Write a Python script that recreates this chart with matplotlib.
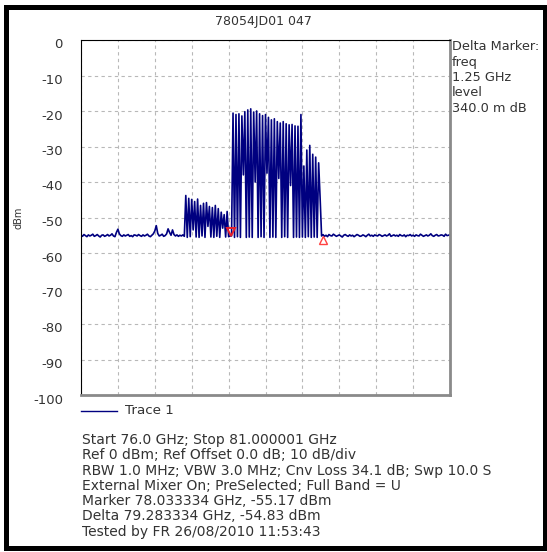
import numpy as np
import matplotlib
matplotlib.use("Agg")
import matplotlib.pyplot as plt
from matplotlib.patches import Rectangle
from matplotlib.transforms import ScaledTranslation

plt.rcParams['font.family'] = ['DejaVu Sans']

title = "78054JD01 047"
start_ghz = 76.0
stop_ghz = 81.000001
y_ticks = [0, -10, -20, -30, -40, -50, -60, -70, -80, -90, -100]

levels_dbm = [
    # 76.00 - 77.40 noise floor
    -55.0, -55.3, -54.8, -55.1, -55.4, -54.9, -55.2, -55.0, -54.7, -55.3,
    -55.1, -54.8, -55.2, -55.5, -55.0, -54.9, -55.3, -55.1, -54.8, -55.2,
    -55.0, -54.6, -55.2, -55.4, -54.2, -53.3, -54.6, -55.1, -55.3, -54.9,
    -55.2, -55.0, -54.8, -55.3, -55.1, -55.4, -54.9, -55.0, -55.2, -54.8,
    -55.1, -55.3, -54.9, -55.2, -55.0, -54.7, -55.2, -55.4, -55.0, -54.6,
    -53.8, -52.3, -54.5, -55.2, -55.0, -54.7, -55.3, -55.1, -54.6, -53.2,
    -54.2, -55.0, -53.5, -54.8, -55.2, -54.9, -55.3, -55.0, -55.2, -54.9,
    -55.3,
    # 77.42 - 78.00 lower bursts
    -43.8, -55.6, -44.6, -55.4, -44.9, -53.5, -45.5, -55.5, -44.8, -55.6,
    -46.6, -55.2, -46.0, -55.6, -45.8, -52.5, -46.9, -55.5, -47.2, -55.6,
    -46.6, -55.3, -47.5, -55.6, -48.5, -53.0, -49.2, -55.5, -48.3, -55.4,
    # 78.02 - 78.04
    -55.2, -55.17,
    # 78.06 - 79.00 tall bursts
    -20.6, -55.6, -21.0, -55.4, -20.8, -55.6, -21.4, -38.0, -20.2, -55.6,
    -19.7, -55.5, -19.4, -55.6, -20.3, -40.0, -20.0, -55.6, -20.8, -55.4,
    -21.3, -55.6, -21.0, -37.5, -21.8, -55.6, -22.5, -55.5, -22.2, -55.6,
    -23.0, -39.0, -23.4, -55.6, -23.0, -55.4, -23.6, -55.6, -23.9, -41.0,
    -23.8, -55.6, -24.2, -55.5, -24.3, -55.6, -21.0, -55.5,
    # 79.02 - 79.28 decaying bursts
    -35.5, -55.6, -31.0, -55.4, -29.7, -55.6, -32.2, -55.5, -33.0, -55.6,
    -34.6, -44.5, -55.2, -54.83,
    # 79.30 - 81.00 noise floor
    -55.3, -55.0, -55.4, -54.8, -55.1, -55.2, -54.7, -55.0, -55.3, -55.1,
    -54.9, -55.2, -55.5, -55.0, -54.8, -55.1, -55.3, -54.9, -55.2, -55.0,
    -55.4, -55.1, -54.8, -55.0, -55.3, -55.2, -54.9, -55.1, -55.4, -55.0,
    -54.7, -55.2, -55.0, -55.3, -54.9, -55.1, -55.2, -54.8, -55.0, -55.3,
    -55.1, -54.9, -55.2, -55.0, -54.6, -55.3, -55.1, -54.9, -55.2, -55.0,
    -55.3, -54.8, -55.1, -55.2, -54.9, -55.4, -55.0, -55.1, -54.8, -55.2,
    -55.0, -55.3, -54.9, -55.1, -55.2, -54.7, -55.0, -55.3, -55.1, -54.9,
    -55.2, -55.0, -54.6, -55.1, -55.3, -55.0, -54.8, -55.2, -55.1, -54.9,
    -55.0, -55.3, -54.7, -55.1, -55.0, -54.8,
]
freqs_ghz = np.linspace(start_ghz, stop_ghz, len(levels_dbm))

marker_freq = 78.033334
marker_level = -55.17
delta_freq = 79.283334
delta_level = -54.83

delta_lines = ["Delta Marker:", "freq", "1.25 GHz", "level", "340.0 m dB"]
info_lines = [
    "Start 76.0 GHz; Stop 81.000001 GHz",
    "Ref 0 dBm; Ref Offset 0.0 dB; 10 dB/div",
    "RBW 1.0 MHz; VBW 3.0 MHz; Cnv Loss 34.1 dB; Swp 10.0 S",
    "External Mixer On; PreSelected; Full Band = U",
    "Marker 78.033334 GHz, -55.17 dBm",
    "Delta 79.283334 GHz, -54.83 dBm",
    "Tested by FR 26/08/2010 11:53:43",
]

W, H = 547, 552
fig = plt.figure(figsize=(W / 100, H / 100), dpi=100)
fig.patch.set_facecolor('white')

def fx(px):
    return px / W

def fy(py):
    return 1 - py / H

ax = fig.add_axes([fx(81), fy(395), fx(450) - fx(81), fy(40) - fy(395)])
ax.set_xlim(start_ghz, stop_ghz)
ax.set_ylim(-100, 0)
ax.set_xticks(np.linspace(start_ghz, stop_ghz, 11))
ax.set_xticklabels([])
ax.set_yticks(y_ticks)
ax.set_yticklabels([str(t) for t in y_ticks])
ax.tick_params(axis='both', length=0)
ax.tick_params(axis='y', pad=13, labelsize=9.5, labelcolor='#333333')
for lab in ax.get_yticklabels():
    lab.set_transform(lab.get_transform() + ScaledTranslation(0, -0.035, fig.dpi_scale_trans))
ax.grid(True, color='#b8b8b8', linestyle=(0, (3, 3)), linewidth=0.8)
ax.set_axisbelow(True)
for s in ['left', 'top']:
    ax.spines[s].set_color('black')
    ax.spines[s].set_linewidth(0.8)
for s in ['right', 'bottom']:
    ax.spines[s].set_color('#8a8a8a')
    ax.spines[s].set_linewidth(2.0)

ax.plot(freqs_ghz, levels_dbm, color='#000080', linewidth=1.2)

ax.plot([marker_freq], [marker_level + 1.0], marker='v', markersize=6,
        markerfacecolor='none', markeredgecolor='#e8202a', markeredgewidth=1.4, linestyle='none')
ax.plot([delta_freq], [delta_level - 1.4], marker='^', markersize=6,
        markerfacecolor='none', markeredgecolor='#ff4040', markeredgewidth=1.0, linestyle='none')

fig.text(fx(263.5), fy(22), title, ha='center', va='center', fontsize=9, color='#333333')
fig.text(fx(19), fy(218), "dBm", ha='center', va='center', rotation=90, fontsize=7, color='#333333')

for i, t in enumerate(delta_lines):
    fig.text(fx(452), fy(47 + i * 15.3), t, ha='left', va='center', fontsize=9.3, color='#333333')

fig.add_artist(plt.Line2D([fx(81), fx(117)], [fy(411), fy(411)], color='#000080', linewidth=1.0))
fig.text(fx(125), fy(411), "Trace 1", ha='left', va='center', fontsize=9.7, color='#333333')

for i, t in enumerate(info_lines):
    fig.text(fx(82), fy(440 + i * 15.3), t, ha='left', va='center', fontsize=10, color='#333333')

# outer frame
fig.add_artist(Rectangle((fx(5.5), fy(547.5)), fx(544.5) - fx(5.5), fy(6.5) - fy(547.5),
                         fill=False, edgecolor='black', linewidth=3.6))

fig.savefig("out.png", dpi=100, facecolor='white')
